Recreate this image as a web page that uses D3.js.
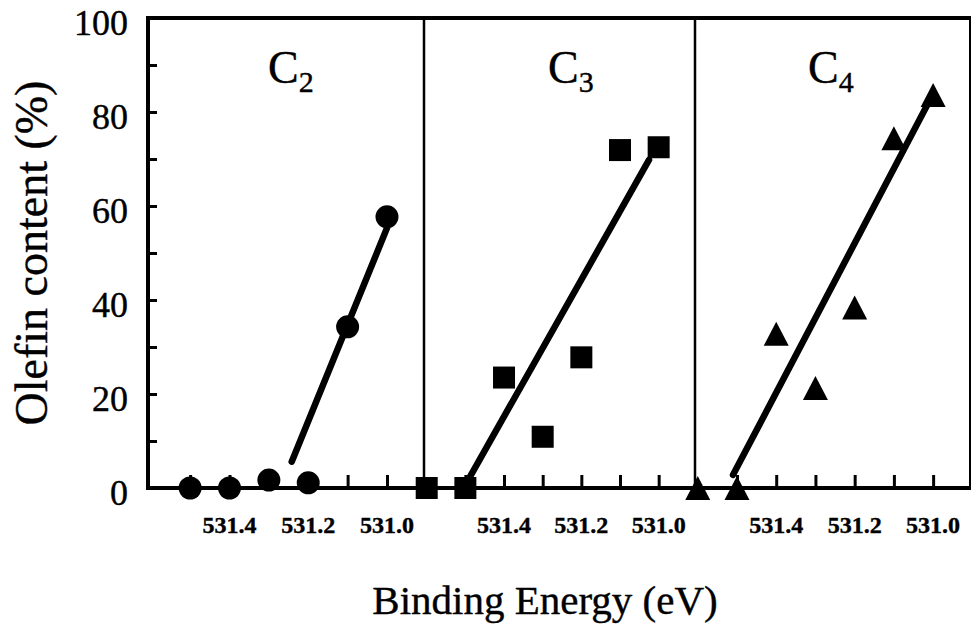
<!DOCTYPE html>
<html>
<head>
<meta charset="utf-8">
<script src="https://cdn.jsdelivr.net/npm/d3@7/dist/d3.min.js"></script>
<style>
  html, body { margin: 0; padding: 0; background: #fff; }
  svg { display: block; }
</style>
</head>
<body>
<svg id="chart" width="971" height="625"></svg>
<script>
// ---- data ----
const panels = ["C2", "C3", "C4"];
const panelSub = ["2", "3", "4"];
const markerShapes = ["circle", "square", "triangle"];

// binding energy (eV) of each measured sample
const energyC2 = [531.5, 531.4, 531.3, 531.2, 531.1, 531.0];
const energyC3 = [531.6, 531.5, 531.4, 531.3, 531.2, 531.1, 531.0];
const energyC4 = [531.6, 531.5, 531.4, 531.3, 531.2, 531.1, 531.0];

// olefin content (%)
const olefinC2 = [0, 0, 1.7, 1.1, 34.3, 57.7];
const olefinC3 = [0, 0, 23.5, 10.9, 27.8, 71.9, 72.5];
const olefinC4 = [0, 0, 32.8, 21.3, 38.4, 74.4, 83.6];

// fitted trend lines: [energy, olefin] start and end
const fitC2 = [[531.242, 5.6], [531.0, 55.3]];
const fitC3 = [[531.49, 2.1], [531.025, 69.8]];
const fitC4 = [[531.51, 2.8], [531.008, 82.6]];

const xTickValues = [531.5, 531.4, 531.3, 531.2, 531.1, 531.0];
const xTickLabels = [531.4, 531.2, 531.0];
const yTickValues = [0, 10, 20, 30, 40, 50, 60, 70, 80, 90, 100];
const yTickLabels = [0, 20, 40, 60, 80, 100];

const energyDomain = [531.607, 530.906];

// ---- layout ----
const FONT = "'Liberation Serif', 'Times New Roman', Times, serif";
const svg = d3.select("#chart").attr("font-family", FONT);
const plotTop = 18, plotBottom = 488;
const panelEdges = [148, 424, 695, 970];
const labelOffsets = [120, 124, 113];

const y = d3.scaleLinear().domain([0, 100]).range([plotBottom, plotTop]);

const series = [
  { x: energyC2, y: olefinC2, fit: fitC2 },
  { x: energyC3, y: olefinC3, fit: fitC3 },
  { x: energyC4, y: olefinC4, fit: fitC4 }
];

const g = svg.append("g");

// text helper: black serif with a faint outline for a heavier print look
function txt(sel) {
  return sel.attr("font-family", FONT).attr("fill", "#000")
    .attr("stroke", "#000").attr("stroke-width", 0.4);
}

series.forEach((s, i) => {
  const x = d3.scaleLinear().domain(energyDomain).range([panelEdges[i], panelEdges[i + 1]]);
  const pg = g.append("g").attr("class", "panel");

  // inward ticks along the bottom axis
  const xAxis = d3.axisTop(x).tickValues(xTickValues).tickSize(13).tickFormat("");
  const ax = pg.append("g").attr("transform", `translate(0,${plotBottom})`).call(xAxis);
  ax.select(".domain").remove();
  ax.selectAll(".tick line").attr("stroke", "#000").attr("stroke-width", 3);

  // tick labels below the axis
  txt(pg.selectAll("text.xl").data(xTickLabels).enter().append("text"))
    .attr("class", "xl")
    .attr("x", d => x(d))
    .attr("y", 533)
    .attr("text-anchor", "middle")
    .attr("font-size", 24)
    .attr("font-weight", "bold")
    .text(d => d.toFixed(1));

  // panel label with subscript
  const lbl = txt(pg.append("text"))
    .attr("x", panelEdges[i] + labelOffsets[i])
    .attr("y", 83)
    .attr("font-size", 46);
  lbl.append("tspan").text("C");
  lbl.append("tspan").attr("dy", 9).attr("font-size", 30).text(panelSub[i]);

  // fitted line
  pg.append("line")
    .attr("x1", x(s.fit[0][0])).attr("y1", y(s.fit[0][1]))
    .attr("x2", x(s.fit[1][0])).attr("y2", y(s.fit[1][1]))
    .attr("stroke", "#000").attr("stroke-width", 6.5).attr("stroke-linecap", "round");

  // markers
  const pts = s.x.map((e, k) => [e, s.y[k]]);
  const shape = markerShapes[i];
  if (shape === "circle") {
    pg.selectAll("circle").data(pts).enter().append("circle")
      .attr("cx", d => x(d[0])).attr("cy", d => y(d[1])).attr("r", 11.5).attr("fill", "#000");
  } else if (shape === "square") {
    const sz = 22;
    pg.selectAll("rect.m").data(pts).enter().append("rect").attr("class", "m")
      .attr("x", d => x(d[0]) - sz / 2).attr("y", d => y(d[1]) - sz / 2)
      .attr("width", sz).attr("height", sz).attr("fill", "#000");
  } else {
    const w = 25, h = 24;
    pg.selectAll("path.m").data(pts).enter().append("path").attr("class", "m")
      .attr("d", d => {
        const cx = x(d[0]), cy = y(d[1]);
        return `M${cx},${cy - h / 2}L${cx + w / 2},${cy + h / 2}L${cx - w / 2},${cy + h / 2}Z`;
      })
      .attr("fill", "#000");
  }
});

// left axis ticks (inward)
const yAxis = d3.axisRight(y).tickValues(yTickValues).tickSize(9).tickFormat("");
const ay = g.append("g").attr("transform", `translate(${panelEdges[0]},0)`).call(yAxis);
ay.select(".domain").remove();
ay.selectAll(".tick line").attr("stroke", "#000").attr("stroke-width", 3);

txt(g.selectAll("text.yl").data(yTickLabels).enter().append("text"))
  .attr("class", "yl")
  .attr("x", 128)
  .attr("y", d => y(d) + 5)
  .attr("text-anchor", "end")
  .attr("dominant-baseline", "central")
  .attr("font-size", 36)
  .text(d => d);

// frame and panel separators
g.append("line").attr("x1", 146).attr("x2", 971).attr("y1", plotTop).attr("y2", plotTop)
  .attr("stroke", "#000").attr("stroke-width", 4);
g.append("line").attr("x1", 146).attr("x2", 971).attr("y1", plotBottom).attr("y2", plotBottom)
  .attr("stroke", "#000").attr("stroke-width", 4);
g.append("line").attr("x1", panelEdges[0]).attr("x2", panelEdges[0]).attr("y1", plotTop - 2).attr("y2", plotBottom + 2)
  .attr("stroke", "#000").attr("stroke-width", 4);
[panelEdges[1], panelEdges[2]].forEach(px => {
  g.append("line").attr("x1", px).attr("x2", px).attr("y1", plotTop).attr("y2", plotBottom)
    .attr("stroke", "#000").attr("stroke-width", 2.5);
});
g.append("line").attr("x1", panelEdges[3]).attr("x2", panelEdges[3]).attr("y1", plotTop).attr("y2", plotBottom)
  .attr("stroke", "#000").attr("stroke-width", 2);

// axis titles
txt(g.append("text"))
  .attr("transform", "translate(47,253) rotate(-90)")
  .attr("text-anchor", "middle")
  .attr("font-size", 46)
  .text("Olefin content (%)");

txt(g.append("text"))
  .attr("x", 545)
  .attr("y", 614)
  .attr("text-anchor", "middle")
  .attr("font-size", 41)
  .text("Binding Energy (eV)");
</script>
</body>
</html>
